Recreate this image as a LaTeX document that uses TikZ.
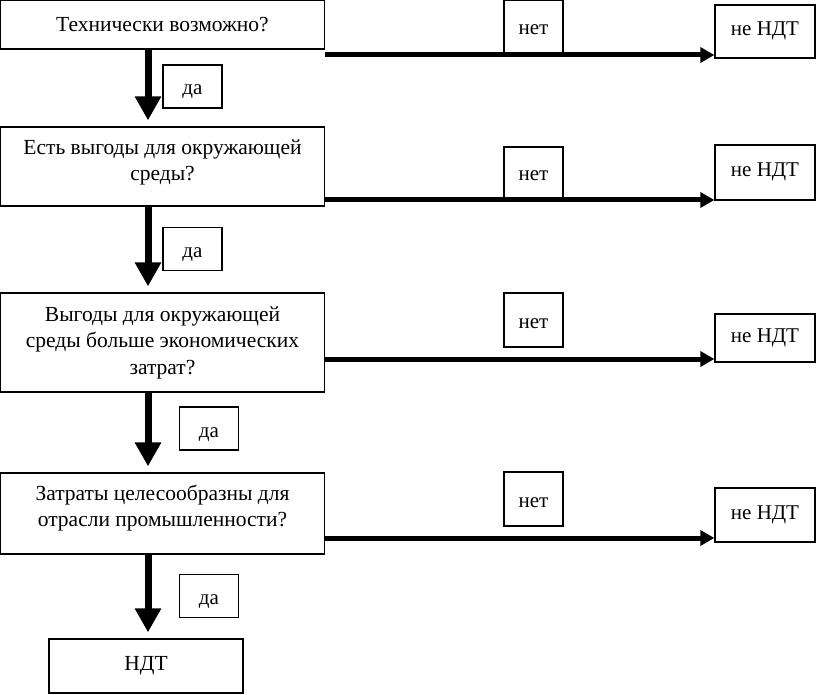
\documentclass[tikz,border=0pt]{standalone}
\usepackage{fontspec}
\setmainfont{Liberation Serif}
\usetikzlibrary{arrows.meta}

\begin{document}
\begin{tikzpicture}[x=1pt,y=1pt]

\def\spinex{148}
\def\noline{1.3pt}

\tikzstyle{question}=[rectangle,draw,line width=\noline,minimum width=324pt,align=center,inner sep=0pt,font=\fontsize{21.5}{26.5}\selectfont]
\tikzstyle{answer}=[rectangle,draw,line width=\noline,minimum width=59pt,minimum height=43pt,inner sep=0pt,text height=17pt,text depth=0pt,font=\fontsize{21}{24}\selectfont]
\tikzstyle{verdict}=[answer,minimum width=100pt,text height=14pt,text depth=6pt]
\tikzstyle{yesarrow}=[line width=7pt,-{Triangle[length=24pt,width=25pt]},shorten >=6pt]
\tikzstyle{noarrow}=[line width=5pt,-{Triangle[length=14pt,width=15pt]}]

\useasboundingbox (0,0) rectangle (817,-695);

%questions
\node[question,minimum height=49pt] (q1) at (162.5,-24.5) {Технически возможно?};
\node[question,minimum height=79pt,text depth=13pt] (q2) at (162.5,-166.5) {Есть выгоды для окружающей\\среды?};
\node[question,minimum height=99pt] (q3) at (162.5,-342.5) {Выгоды для окружающей\\среды больше экономических\\затрат?};
\node[question,minimum height=81pt,text depth=15pt] (q4) at (162.5,-513.5) {Затраты целесообразны для\\отрасли промышленности?};
\node[question,minimum width=194pt,minimum height=54pt] (bat) at (146,-666) {НДТ};

%yes
\node[answer] (yes1) at (192.5,-86.5) {да};
\node[answer] (yes2) at (192.5,-249) {да};
\node[answer] (yes3) at (209,-428.5) {да};
\node[answer] (yes4) at (209,-596) {да};

\coordinate (spine) at (\spinex,0);
\draw[yesarrow] (q1.south -| spine) -- (q2.north -| spine);
\draw[yesarrow] (q2.south -| spine) -- (q3.north -| spine);
\draw[yesarrow] (q3.south -| spine) -- (q4.north -| spine);
\draw[yesarrow] (q4.south -| spine) -- (bat.north -| spine);

%no
\node[answer,minimum height=53pt] (no1) at (533.5,-26.5) {нет};
\node[answer,minimum height=51pt] (no2) at (533.5,-172.5) {нет};
\node[answer,minimum height=54pt] (no3) at (533.5,-320) {нет};
\node[answer,minimum height=54pt] (no4) at (533.5,-499) {нет};

\node[verdict,minimum height=53pt] (nb1) at (765,-31.5) {не НДТ};
\node[verdict,minimum height=55pt] (nb2) at (765,-172.5) {не НДТ};
\node[verdict,minimum height=48pt] (nb3) at (765,-338) {не НДТ};
\node[verdict,minimum height=54pt] (nb4) at (765,-515) {не НДТ};

\coordinate (h1) at (325,-55);
\coordinate (h2) at (325,-200);
\coordinate (h3) at (325,-359);
\coordinate (h4) at (325,-538);
\draw[noarrow] (h1) -- (h1 -| nb1.west);
\draw[noarrow] (h2) -- (h2 -| nb2.west);
\draw[noarrow] (h3) -- (h3 -| nb3.west);
\draw[noarrow] (h4) -- (h4 -| nb4.west);

\end{tikzpicture}
\end{document}
